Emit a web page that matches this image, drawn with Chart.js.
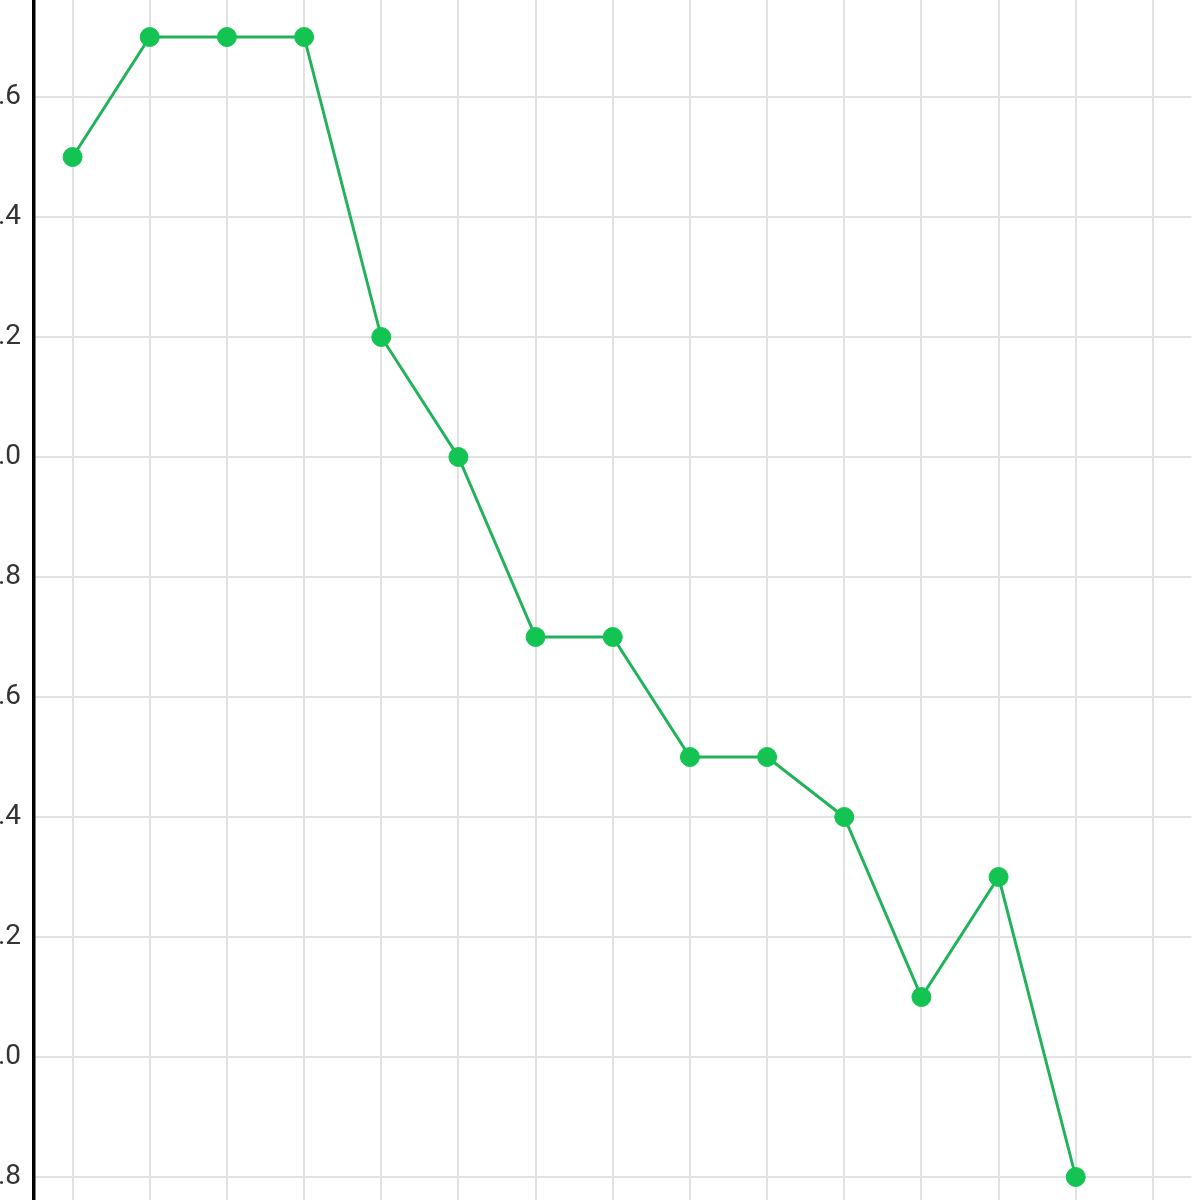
<!DOCTYPE html>
<html>
<head>
<meta charset="utf-8">
<script src="https://cdn.jsdelivr.net/npm/chart.js@4/dist/chart.umd.min.js"></script>
<style>
  html, body { margin: 0; padding: 0; background: #fff; }
  #wrap { position: relative; width: 1200px; height: 1200px; overflow: hidden; }
  #chart { position: absolute; left: 0; top: 0; }
</style>
</head>
<body>
<div id="wrap"><canvas id="chart" width="1238" height="1380"></canvas></div>
<script>
// categories (x labels are cut off in the picture)
const labels = ["1", "2", "3", "4", "5", "6", "7", "8", "9", "10", "11", "12", "13", "14", "15"];
// series values
const values = [2.5, 2.7, 2.7, 2.7, 2.2, 2.0, 1.7, 1.7, 1.5, 1.5, 1.4, 1.1, 1.3, 0.8, null];
// y range and step
const yMin = 0.6;
const yMax = 2.8;
const yStep = 0.2;

const ctx = document.getElementById("chart");

const chart = new Chart(ctx, {
  type: "line",
  data: {
    labels: labels,
    datasets: [{
      data: values,
      borderColor: "#22b35a",
      borderWidth: 3,
      backgroundColor: "#13c452",
      pointBackgroundColor: "#13c452",
      pointBorderColor: "#13c452",
      pointRadius: 9.5,
      pointBorderWidth: 1,
      tension: 0,
      spanGaps: false
    }]
  },
  options: {
    responsive: false,
    animation: false,
    layout: { padding: { top: 30, bottom: 30, left: 0, right: 0 } },
    plugins: {
      legend: { display: false },
      tooltip: { enabled: false }
    },
    scales: {
      x: {
        offset: true,
        grid: { color: "#e2e2e2", lineWidth: 2, drawTicks: false, offset: false },
        border: { display: false },
        ticks: { display: false },
        afterFit: (scale) => { scale.height = 0; }
      },
      y: {
        min: yMin,
        max: yMax,
        grid: { color: "#e2e2e2", lineWidth: 2, drawTicks: false },
        border: { display: true, color: "#000", width: 3.5 },
        ticks: {
          stepSize: yStep,
          padding: 13,
          color: "#333",
          font: { family: "Roboto", size: 28 },
          callback: (v) => Number(v).toFixed(1)
        },
        afterFit: (scale) => { scale.width = 70; }
      }
    }
  }
});

// shift the canvas so the plot sits where the cropped picture shows it
const area = chart.chartArea;
ctx.style.left = (34 - area.left) + "px";
ctx.style.top = (97 - chart.scales.y.getPixelForValue(2.6)) + "px";
</script>
</body>
</html>
